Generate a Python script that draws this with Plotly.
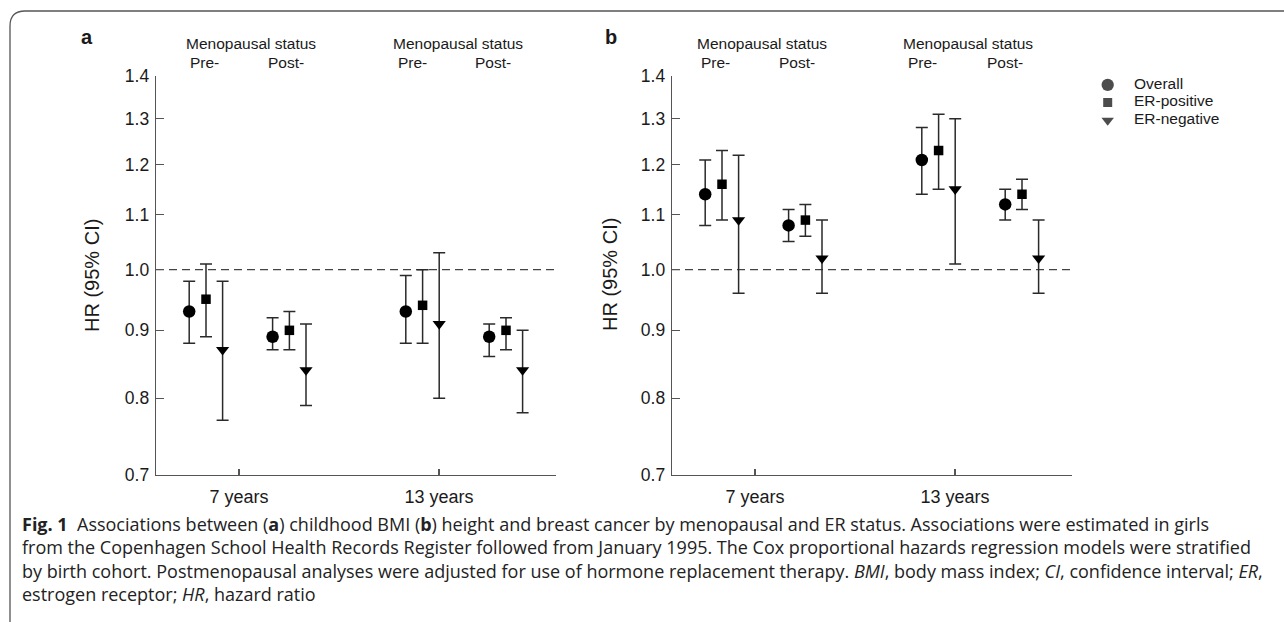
import math
import plotly.graph_objects as go

W, H = 1284, 622

# ---------------- data ----------------
ages = ["7 years", "13 years"]
age_pos = [1, 2]
status = ["Pre-", "Post-"]
series = ["Overall", "ER-positive", "ER-negative"]

# group order: 7y pre, 7y post, 13y pre, 13y post
group_age = [0, 0, 1, 1]

# Panel a: childhood BMI
bmi_hr = {
    "Overall":     [0.93, 0.89, 0.93, 0.89],
    "ER-positive": [0.95, 0.90, 0.94, 0.90],
    "ER-negative": [0.87, 0.84, 0.91, 0.84],
}
bmi_lo = {
    "Overall":     [0.88, 0.87, 0.88, 0.86],
    "ER-positive": [0.89, 0.87, 0.88, 0.87],
    "ER-negative": [0.77, 0.79, 0.80, 0.78],
}
bmi_hi = {
    "Overall":     [0.98, 0.92, 0.99, 0.91],
    "ER-positive": [1.01, 0.93, 1.00, 0.92],
    "ER-negative": [0.98, 0.91, 1.03, 0.90],
}

# Panel b: height
ht_hr = {
    "Overall":     [1.14, 1.08, 1.21, 1.12],
    "ER-positive": [1.16, 1.09, 1.23, 1.14],
    "ER-negative": [1.09, 1.02, 1.15, 1.02],
}
ht_lo = {
    "Overall":     [1.08, 1.05, 1.14, 1.09],
    "ER-positive": [1.09, 1.06, 1.15, 1.11],
    "ER-negative": [0.96, 0.96, 1.01, 0.96],
}
ht_hi = {
    "Overall":     [1.21, 1.11, 1.28, 1.15],
    "ER-positive": [1.23, 1.12, 1.31, 1.17],
    "ER-negative": [1.22, 1.09, 1.30, 1.09],
}

y_ticks = [0.7, 0.8, 0.9, 1.0, 1.1, 1.2, 1.3, 1.4]
y_ticktext = ["0.7", "0.8", "0.9", "1.0", "1.1", "1.2", "1.3", "1.4"]
ref_hr = 1.0

caption_lines = [
    "<b>Fig. 1</b>  Associations between (<b>a</b>) childhood BMI (<b>b</b>) height and breast cancer by menopausal and ER status. Associations were estimated in girls",
    "from the Copenhagen School Health Records Register followed from January 1995. The Cox proportional hazards regression models were stratified",
    "by birth cohort. Postmenopausal analyses were adjusted for use of hormone replacement therapy. <i>BMI</i>, body mass index; <i>CI</i>, confidence interval; <i>ER</i>,",
    "estrogen receptor; <i>HR</i>, hazard ratio",
]

# ---------------- styling ----------------
symbols = {"Overall": "circle", "ER-positive": "square", "ER-negative": "triangle-down"}
msize = {"Overall": 12.5, "ER-positive": 9.5, "ER-negative": 11.5}
group_center = [-0.165, 0.252, -0.082, 0.335]
series_shift = {"Overall": -0.084, "ER-positive": 0.0, "ER-negative": 0.083}

AX_FONT = "Liberation Sans, Arial, Helvetica, sans-serif"
CAP_FONT = "Open Sans, Noto Sans, sans-serif"
INK = "#1a1a1a"
LINE = "#555555"
X_RANGE = [0.585, 2.585]

def px(x):
    return x / W

def py(y):
    return 1 - y / H

fig = go.Figure()

panels = [
    ("x", "y", bmi_hr, bmi_lo, bmi_hi),
    ("x2", "y2", ht_hr, ht_lo, ht_hi),
]

for xa, ya, hr, lo, hi in panels:
    # reference line at HR = 1
    fig.add_trace(go.Scatter(
        x=X_RANGE, y=[ref_hr, ref_hr], xaxis=xa, yaxis=ya, mode="lines",
        line=dict(color="#444444", width=1.2, dash="8px,5px"),
        showlegend=False, hoverinfo="skip"))
    for s in series:
        xs = [age_pos[group_age[g]] + group_center[g] + series_shift[s] for g in range(4)]
        fig.add_trace(go.Scatter(
            x=xs, y=hr[s], xaxis=xa, yaxis=ya, mode="markers", name=s,
            showlegend=False,
            marker=dict(symbol=symbols[s], size=msize[s], color="#000000",
                        line=dict(width=0)),
            error_y=dict(type="data", symmetric=False,
                         array=[h - v for h, v in zip(hi[s], hr[s])],
                         arrayminus=[v - l for v, l in zip(hr[s], lo[s])],
                         color="#2a2a2a", thickness=1.5, width=6),
        ))

# legend (drawn on its own hidden axis, 1 unit = 1 px horizontally)
leg_rows = list(range(len(series)))
fig.add_trace(go.Scatter(
    x=[7.7] * len(series), y=leg_rows, xaxis="x3", yaxis="y3", mode="markers",
    marker=dict(symbol=[symbols[s] for s in series], size=[12.3, 9, 10.8],
                color="#000000", line=dict(width=0)),
    showlegend=False, hoverinfo="skip"))
fig.add_trace(go.Scatter(
    x=[34] * len(series), y=leg_rows, xaxis="x3", yaxis="y3", mode="text",
    text=series, textposition="middle right",
    textfont=dict(family=AX_FONT, size=15.5, color=INK),
    showlegend=False, hoverinfo="skip"))

axis_common_x = dict(
    range=X_RANGE, tickmode="array", tickvals=age_pos, ticktext=ages,
    ticks="inside", ticklen=6, tickwidth=1.2, tickcolor=LINE,
    showline=True, linecolor=LINE, linewidth=1.3, showgrid=False, zeroline=False,
    tickfont=dict(family=AX_FONT, size=18, color=INK), ticklabelstandoff=5,
)
axis_common_y = dict(
    type="log", range=[math.log10(0.7), math.log10(1.4)], tickmode="array",
    tickvals=y_ticks, ticktext=y_ticktext,
    ticks="inside", ticklen=8, tickwidth=1.2, tickcolor=LINE,
    showline=True, linecolor=LINE, linewidth=1.3, showgrid=False, zeroline=False,
    tickfont=dict(family=AX_FONT, size=17.5, color=INK), ticklabelstandoff=2,
)
hidden = dict(visible=False, showgrid=False, zeroline=False, fixedrange=True)

fig.update_layout(
    width=W, height=H, margin=dict(l=0, r=0, t=0, b=0, autoexpand=False),
    paper_bgcolor="white", plot_bgcolor="rgba(0,0,0,0)",
    xaxis=dict(domain=[px(156), px(556)], anchor="y", **axis_common_x),
    yaxis=dict(domain=[py(475), py(76)], anchor="x", **axis_common_y),
    xaxis2=dict(domain=[px(672), px(1072)], anchor="y2", **axis_common_x),
    yaxis2=dict(domain=[py(475), py(76)], anchor="x2", **axis_common_y),
    xaxis3=dict(domain=[px(1100), px(1260)], range=[0, 160], anchor="y3", **hidden),
    yaxis3=dict(domain=[py(129.2), py(76)], range=[2.5, -0.5], anchor="x3", **hidden),
    showlegend=False,
)

ann = []
# panel letters and y titles
for letter, lx, ytx in [("a", 87, 92), ("b", 611, 610)]:
    ann.append(dict(text=f"<b>{letter}</b>", x=px(lx), y=py(37), xref="paper", yref="paper",
                    showarrow=False, xanchor="center", yanchor="middle",
                    font=dict(family=AX_FONT, size=20, color=INK)))
    ann.append(dict(text="HR (95% CI)", x=px(ytx), y=py(275), xref="paper", yref="paper",
                    textangle=-90, showarrow=False, xanchor="center", yanchor="middle",
                    font=dict(family=AX_FONT, size=20, color=INK)))

# menopausal status headers (offsets in category units relative to each age)
headers = [
    ("x", [(0.06, -0.175, 0.235), (0.095, -0.135, 0.27)]),
    ("x2", [(0.037, -0.195, 0.208), (0.065, -0.16, 0.25)]),
]
for xa, offs in headers:
    for a, (mo, pre, post) in zip(age_pos, offs):
        ann.append(dict(text="Menopausal status", x=a + mo, y=py(44), xref=xa, yref="paper",
                        showarrow=False, xanchor="center", yanchor="middle",
                        font=dict(family=AX_FONT, size=15.5, color=INK)))
        ann.append(dict(text=status[0], x=a + pre, y=py(62), xref=xa, yref="paper",
                        showarrow=False, xanchor="center", yanchor="middle",
                        font=dict(family=AX_FONT, size=15.5, color=INK)))
        ann.append(dict(text=status[1], x=a + post, y=py(62), xref=xa, yref="paper",
                        showarrow=False, xanchor="center", yanchor="middle",
                        font=dict(family=AX_FONT, size=15.5, color=INK)))

# caption as one multi-line text block
ann.append(dict(text="<br>".join(caption_lines), x=px(20), y=py(559), xref="paper", yref="paper",
                showarrow=False, xanchor="left", yanchor="middle", align="left",
                font=dict(family=CAP_FONT, size=18, color="#222222")))

fig.update_layout(annotations=ann)

# frame with rounded top-left corner
fig.add_shape(type="path", xref="paper", yref="paper",
              path=f"M 1.01,{py(11)} L {px(25)},{py(11)} Q {px(10)},{py(11)} {px(10)},{py(26)} L {px(10)},-0.01",
              line=dict(color="#555555", width=1.3))

fig.write_html(
    "out.html",
    config={"displayModeBar": False, "staticPlot": True},
    post_script="document.body.style.margin='0';document.documentElement.style.overflow='hidden';document.body.style.overflow='hidden';",
)
